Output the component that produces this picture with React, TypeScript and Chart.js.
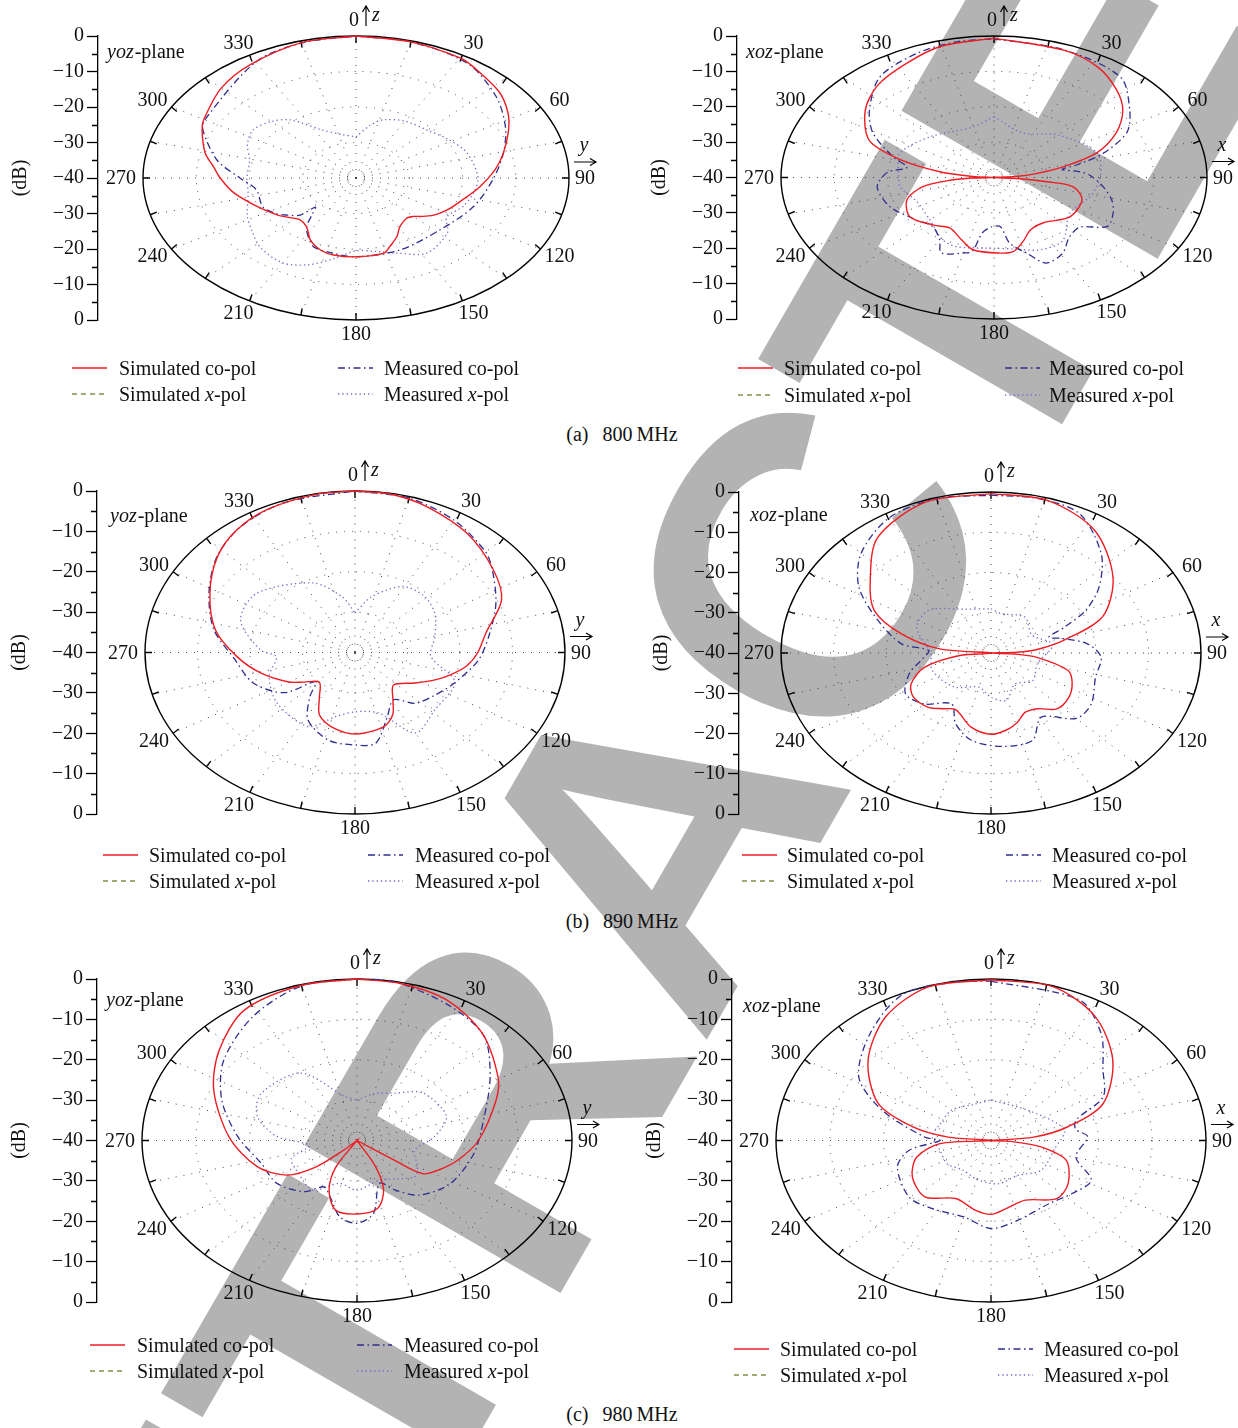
import React, { useEffect, useRef } from "react";
import { Chart, registerables } from "chart.js";

Chart.register(...registerables);

const SERIF = "'Liberation Serif', 'Times New Roman', serif";
const FS = 20;

/* ---------------- axis / grid values ---------------- */
const dbAxisLevels = [0, -5, -10, -15, -20, -25, -30, -35, -40];
const ringLevels = [-10, -20, -30];
const spokeAngles = [0, 15, 30, 45, 60, 75, 90, 105, 120, 135, 150, 165, 180, 195, 210, 225, 240, 255, 270, 285, 300, 315, 330, 345];
const angleLabelValues = [30, 60, 120, 150, 180, 210, 240, 270, 300, 330];
const legendLabels = ["Simulated co-pol", "Simulated x-pol", "Measured co-pol", "Measured x-pol"];
const captionTags = ["(a)", "(b)", "(c)"];
const captionFreqs = ["800 MHz", "890 MHz", "980 MHz"];
const watermarkText = "RETRACTED";

/* ---------------- (a) 800 MHz, yoz ---------------- */
const aYozSimAng = [0, 15, 30, 35, 48, 57, 65, 76, 85, 96, 109, 118, 126, 132, 135, 140, 149, 155, 162, 166, 180, 191, 198, 206, 214, 222, 228, 235, 247, 260, 270, 277, 284, 295, 300, 315, 328, 345, 360];
const aYozSimDb = [0, -0.3, -0.9, -1.7, -3.8, -6, -8.4, -11.5, -13.8, -16.6, -19.4, -20.7, -22.1, -23.8, -24.7, -25.2, -24, -21.8, -19.6, -18.2, -17.8, -17.9, -18.6, -20.5, -23.4, -24.2, -23.3, -21.9, -19.7, -16.6, -14.5, -13, -10.8, -8.1, -7, -4.2, -2.4, -0.5, 0];
const aYozMeasCoAng = [0, 15, 33, 49, 63, 76, 91, 110, 133, 158, 180, 192, 202, 208, 214, 219, 223, 225, 231, 236, 245, 260, 270, 281, 295, 300, 330, 345, 360];
const aYozMeasCoDb = [0, -0.3, -1.5, -5.1, -8.5, -11.5, -14.3, -16.5, -18.5, -18.1, -17.8, -18.4, -19, -21, -23.4, -27, -28.8, -25.2, -23.4, -22, -20.7, -21, -18.2, -13.4, -8.3, -7.2, -2.3, -0.6, 0];
const aYozMeasXAng = [0, 10, 17, 30, 45, 58, 71, 89, 100, 112, 123, 132, 148, 160, 170, 180, 190, 200, 210, 223, 233, 242, 258, 270, 284, 295, 305, 315, 323, 335, 348, 360];
const aYozMeasXDb = [-28.4, -25, -22.9, -21.5, -21, -19.5, -18, -17.1, -17.5, -18.4, -19.7, -16.9, -15, -17.5, -19, -19.5, -17, -14, -12.4, -13.5, -15.5, -16.9, -19.3, -19.5, -19.4, -17.5, -16.4, -17.5, -19.5, -25.1, -27.5, -28.4];

/* ---------------- (a) 800 MHz, xoz ---------------- */
const aXozSimAng = [0, 20, 32, 43, 52, 61, 70, 77, 82, 86, 90, 94, 97, 100, 111, 128, 144, 155, 163, 170, 177, 191, 200, 210, 220, 235, 249, 259, 265, 268, 270, 274, 279, 286, 294, 308, 320, 333, 345, 360];
const aXozSimDb = [-0.6, -1.7, -3.2, -6.2, -9.3, -13.7, -19.4, -26.7, -32, -36, -40, -35.2, -30, -24.9, -22.3, -21.9, -24.2, -23.7, -21.2, -18.8, -18.6, -19.2, -21.6, -23.5, -22.4, -20.7, -22.5, -26.4, -32, -36, -40, -36, -29.7, -21.7, -14.4, -9.3, -6, -3.8, -1.6, -0.6];
const aXozMeasCoAng = [0, 20, 40, 53, 63, 72, 77, 80, 84, 88, 97, 106, 114, 123, 131, 140, 149, 158, 164, 171, 175, 182, 188, 191, 195, 205, 210, 220, 230, 247, 263, 274, 280, 287, 299, 309, 323, 338, 350, 360];
const aXozMeasCoDb = [-0.8, -1.6, -3, -8.1, -12, -18.7, -24, -27, -24, -22, -19.4, -17, -15.5, -14.6, -18.6, -18, -15, -13.9, -17.8, -21.2, -26, -26, -24.2, -18.8, -17.9, -16.5, -19.6, -22, -21.2, -18.8, -17.9, -19.9, -23.4, -20.2, -14, -9.9, -4.4, -2, -1, -0.8];
const aXozMeasXAng = [0, 23, 45, 70, 88, 105, 125, 144, 157, 170, 180, 200, 209, 225, 245, 261, 275, 291, 314, 344, 360];
const aXozMeasXDb = [-22.8, -26.3, -23, -19.4, -20, -21, -22.6, -18, -17.8, -19.5, -20, -19.2, -20, -23, -24, -22.2, -22, -21, -23.4, -25.2, -22.8];

/* ---------------- (b) 890 MHz, yoz ---------------- */
const bYozSimAng = [0, 10, 21, 36, 52, 65, 79, 90, 99, 107, 114, 123.5, 137.7, 148.4, 155, 163.5, 180, 193.4, 203.6, 211, 222.7, 233, 240, 254, 267.4, 282, 298, 312, 323.4, 335, 350, 360];
const bYozSimDb = [0, -0.2, -1.4, -3.6, -6.6, -9.2, -14.6, -16.6, -18.5, -21, -23.3, -26.3, -29.1, -26.2, -23, -20.8, -19.8, -21, -23.1, -26.8, -30, -27.8, -25.4, -21.4, -17.5, -12.8, -8.7, -4.7, -2.2, -0.8, -0.1, 0];
const bYozMeasCoAng = [0, 15, 30, 45, 52, 65.5, 80, 94.5, 111.7, 125, 137.8, 148, 158.7, 170, 180, 193, 208, 218, 226, 233.4, 248.7, 267, 282, 298, 312, 325, 340, 360];
const bYozMeasCoDb = [0, -0.4, -2.2, -4.8, -6.8, -10.5, -14, -16.4, -19.6, -21.5, -23, -26.2, -23, -17.2, -17.1, -17.7, -21, -26, -29.6, -23.3, -19.2, -16.8, -12.5, -8.5, -4.6, -2, -0.5, 0];
const bYozMeasXAng = [0, 13, 29, 43, 57, 75.6, 94, 111, 133, 150, 163, 180, 193, 206, 230, 250, 266, 272, 290, 308, 335, 350, 360];
const bYozMeasXDb = [-30.2, -25.8, -21.3, -20.8, -21.9, -24.3, -25.5, -19.6, -19.2, -17, -24.3, -25.3, -23.7, -19.6, -20.6, -22.6, -25, -22, -16.8, -16.2, -21, -26, -30.2];

/* ---------------- (b) 890 MHz, xoz ---------------- */
const bXozSimAng = [0, 16, 33, 51, 67, 77, 84, 88, 90, 93, 97, 106.5, 116, 127, 138, 147, 156, 164, 171.6, 180, 191.6, 205.5, 213, 221.4, 233.6, 243.4, 254.4, 264, 270, 276, 285.6, 295.4, 308, 323, 341.6, 360];
const bXozSimDb = [-0.4, -0.6, -3.7, -10.1, -16.9, -25.7, -31, -35, -40, -36, -31.2, -24.7, -22.8, -21.5, -21.3, -23.5, -23.9, -22, -20.6, -19.8, -21.2, -24.4, -23.5, -22, -21.6, -23, -26.9, -34, -40, -30.2, -22.3, -15.4, -10.8, -4.1, -0.5, -0.4];
const bXozMeasCoAng = [0, 13, 26, 40.4, 51.5, 59.6, 65.4, 70.4, 75, 82.9, 92.8, 106.8, 123.5, 135, 149, 160, 175, 189.8, 201, 210.6, 225, 238, 251.7, 262, 273, 277.6, 290.6, 303, 315, 330, 345, 360];
const bXozMeasCoDb = [-0.8, -0.6, -1.5, -7.6, -13.7, -19.1, -24.6, -28.3, -26, -21.5, -19, -19.2, -17.1, -17, -21.4, -16.9, -16.7, -18, -21.2, -25.3, -22.1, -20.8, -23.6, -26.5, -28.1, -22.8, -17, -10, -5, -1.2, -0.3, -0.8];
const bXozMeasXAng = [0, 12, 36, 60, 80, 107, 130, 150, 166, 180, 195, 220, 249, 270, 294, 312, 335, 360];
const bXozMeasXDb = [-29, -30, -29, -31, -28, -30.8, -29.5, -31, -27.9, -29, -31.2, -29, -28, -28.5, -24.5, -24.1, -28, -29];

/* ---------------- (c) 980 MHz, yoz ---------------- */
const cYozSimAng = [0, 12, 25.6, 41, 59, 69, 90, 104, 115, 124, 125, 126, 150, 152, 158, 167, 180, 193, 203, 211, 216, 224, 226, 229.4, 236.7, 251, 272, 295, 311, 327, 345, 360];
const cYozSimDb = [0, -0.3, -1.4, -4.6, -9.4, -12.3, -17.4, -20.5, -23, -25.3, -32, -40, -40, -32.6, -26.8, -22.8, -21.8, -22.3, -26.7, -32.4, -40, -40, -36.6, -30, -24.4, -20.3, -16.2, -10.6, -6, -1.5, -0.2, 0];
const cYozMeasCoAng = [0, 10, 27.7, 42.5, 57.4, 76, 98.2, 121.4, 139.6, 149.9, 158.4, 170.3, 180, 189.5, 199.8, 208, 217.6, 234.5, 252.4, 272.5, 291.8, 308.8, 327.8, 344.6, 360];
const cYozMeasCoDb = [0, 0, -2.5, -5, -10.6, -15.6, -18, -19.6, -22.2, -25.8, -28.6, -21.7, -19.5, -20.8, -25.2, -27, -24, -21.7, -21.3, -17.8, -12.9, -8.2, -3.7, -0.4, 0];
const cYozMeasXAng = [0, 15, 31, 46, 70, 86, 103, 120, 130, 157, 180, 197, 214, 235, 250, 262, 274, 288, 303, 328, 348, 360];
const cYozMeasXDb = [-30, -28, -26.3, -23, -22.3, -25.5, -29, -27, -26, -29.3, -27.7, -28.9, -25.2, -26.5, -27, -31, -25, -20.5, -18.7, -20.3, -28.8, -30];

/* ---------------- (c) 980 MHz, xoz ---------------- */
const cXozSimAng = [0, 16.8, 32.3, 48.6, 66.3, 76.6, 84, 90, 94, 99.7, 109.2, 126.7, 139.7, 156.6, 170.6, 180, 189.7, 204.5, 221.4, 238.3, 253.5, 265.4, 270, 276, 283, 293.6, 311, 327.5, 343, 360];
const cXozSimDb = [-0.2, -0.2, -3.7, -9.8, -17.2, -25.3, -32, -40, -36, -30.6, -25.2, -22.1, -21.1, -23.9, -22.9, -21.7, -22.5, -24.2, -21.4, -22.8, -25.6, -30.5, -40, -32, -25.1, -17.1, -9.7, -3.6, -0.2, -0.2];
const cXozMeasCoAng = [0, 25.4, 37.7, 50, 62.6, 72.3, 80, 87, 104.5, 117.8, 131, 145.5, 166, 180, 195, 213, 227.4, 249.4, 261, 270, 274, 290.3, 302.6, 319.8, 335.4, 350, 360];
const cXozMeasCoDb = [-0.5, -1.5, -6.5, -12.8, -16.5, -23.4, -24, -22, -23.7, -18.9, -20, -21, -19.6, -18.2, -20.4, -19.9, -19.3, -21.4, -24.6, -30.5, -27.6, -18.4, -10.8, -5.2, -0.3, -0.2, -0.5];
const cXozMeasXAng = [0, 45, 79, 100, 128, 150, 173, 195, 215, 235, 256, 275, 294, 316, 340, 360];
const cXozMeasXDb = [-30, -29.7, -26.1, -28, -28.1, -30, -29.2, -30, -31, -30, -30.2, -29, -29.7, -29.5, -30.5, -30];

/* ---------------- styles ---------------- */
const STYLE: any = {
  simCo: { color: "#ee1d23", width: 1.4, dash: [] },
  simX: { color: "#8c8c48", width: 1.4, dash: [5, 4] },
  measCo: { color: "#2e2e8e", width: 1.3, dash: [7, 3.5, 1.5, 3.5] },
  measX: { color: "#7f63c9", width: 1.3, dash: [1.3, 3] },
};

const PANELS: any[] = [
  { plane: "yoz", letter: "y", axisX: 98, top: 36, bottom: 320, cx: 356, rx: 213, planeX: 107, planeY: 53,
    series: [[aYozSimAng, aYozSimDb, "simCo"], [aYozMeasCoAng, aYozMeasCoDb, "measCo"], [aYozMeasXAng, aYozMeasXDb, "measX"]],
    legend: { c1x: 72, c1tx: 119, c2x: 338, c2tx: 384, y1: 368, y2: 394 } },
  { plane: "xoz", letter: "x", axisX: 737, top: 36, bottom: 319, cx: 994, rx: 213, planeX: 746, planeY: 53,
    series: [[aXozSimAng, aXozSimDb, "simCo"], [aXozMeasCoAng, aXozMeasCoDb, "measCo"], [aXozMeasXAng, aXozMeasXDb, "measX"]],
    legend: { c1x: 738, c1tx: 784, c2x: 1005, c2tx: 1049, y1: 368, y2: 395 } },
  { plane: "yoz", letter: "y", axisX: 97, top: 491, bottom: 814, cx: 355, rx: 210, planeX: 110, planeY: 517,
    series: [[bYozSimAng, bYozSimDb, "simCo"], [bYozMeasCoAng, bYozMeasCoDb, "measCo"], [bYozMeasXAng, bYozMeasXDb, "measX"]],
    legend: { c1x: 103, c1tx: 149, c2x: 368, c2tx: 415, y1: 855, y2: 881 } },
  { plane: "xoz", letter: "x", axisX: 739, top: 492, bottom: 814, cx: 991, rx: 210, planeX: 750, planeY: 516,
    series: [[bXozSimAng, bXozSimDb, "simCo"], [bXozMeasCoAng, bXozMeasCoDb, "measCo"], [bXozMeasXAng, bXozMeasXDb, "measX"]],
    legend: { c1x: 742, c1tx: 787, c2x: 1006, c2tx: 1052, y1: 855, y2: 881 } },
  { plane: "yoz", letter: "y", axisX: 97, top: 979, bottom: 1302, cx: 357, rx: 215, planeX: 106, planeY: 1001,
    series: [[cYozSimAng, cYozSimDb, "simCo"], [cYozMeasCoAng, cYozMeasCoDb, "measCo"], [cYozMeasXAng, cYozMeasXDb, "measX"]],
    legend: { c1x: 90, c1tx: 137, c2x: 357, c2tx: 404, y1: 1345, y2: 1371 } },
  { plane: "xoz", letter: "x", axisX: 732, top: 979, bottom: 1302, cx: 991, rx: 215, planeX: 743, planeY: 1007,
    series: [[cXozSimAng, cXozSimDb, "simCo"], [cXozMeasCoAng, cXozMeasCoDb, "measCo"], [cXozMeasXAng, cXozMeasXDb, "measX"]],
    legend: { c1x: 734, c1tx: 780, c2x: 998, c2tx: 1044, y1: 1349, y2: 1375 } },
];
const CAPTION_Y = [434, 921, 1414];

const AXIS_W = 97;
const PAD_T = 44;
const PAD_B = 44;

const yTickValues: number[] = Array.from(
  new Set([...dbAxisLevels.map((d) => (d + 40) / 40), ...dbAxisLevels.map((d) => -(d + 40) / 40)])
).sort((a, b) => a - b);

const dbOf = (v: number) => Math.round(-40 + 40 * Math.abs(v));
const isMajor = (v: any) => typeof v === "number" && dbOf(v) % 10 === 0;
const fmt = (d: number) => (d < 0 ? "\u2212" + Math.abs(d) : String(d));

function toXY(ang: number[], db: number[]) {
  return ang.map((a, i) => {
    const r = Math.max(0, (db[i] + 40) / 40);
    const t = (a * Math.PI) / 180;
    return { x: r * Math.sin(t), y: r * Math.cos(t) };
  });
}

function geom(p: any) {
  const Lc = p.axisX - AXIS_W;
  const W = Math.min(600, 1238 - Lc);
  const Tc = p.top - PAD_T;
  const H = p.bottom - p.top + PAD_T + PAD_B;
  const chartRight = p.cx + p.rx + 20;
  const padRight = Lc + W - chartRight;
  const xMin = (p.axisX - p.cx) / p.rx;
  const xMax = (chartRight - p.cx) / p.rx;
  return { Lc, W, Tc, H, padRight, xMin, xMax };
}

function framePlugin(p: any, Lc: number, Tc: number) {
  const setup = (chart: any) => {
    const xs = chart.scales.x;
    const ys = chart.scales.y;
    const pt = (deg: number, r: number) => {
      const t = (deg * Math.PI) / 180;
      return { x: xs.getPixelForValue(r * Math.sin(t)), y: ys.getPixelForValue(r * Math.cos(t)) };
    };
    const c = pt(0, 0);
    const rx = xs.getPixelForValue(1) - c.x;
    const ry = c.y - ys.getPixelForValue(1);
    return { xs, ys, pt, c, rx, ry };
  };
  return {
    id: "polarFrame",
    beforeDatasetsDraw(chart: any) {
      const ctx = chart.ctx;
      const { pt, c, rx, ry } = setup(chart);
      ctx.save();
      ctx.strokeStyle = "#444";
      ctx.lineWidth = 1;
      ctx.setLineDash([1, 7]);
      ringLevels.forEach((lv) => {
        const r = (lv + 40) / 40;
        ctx.beginPath();
        ctx.ellipse(c.x, c.y, rx * r, ry * r, 0, 0, Math.PI * 2);
        ctx.stroke();
      });
      spokeAngles.forEach((a) => {
        const e = pt(a, 1);
        ctx.beginPath();
        ctx.moveTo(c.x, c.y);
        ctx.lineTo(e.x, e.y);
        ctx.stroke();
      });
      ctx.setLineDash([]);
      ctx.strokeStyle = "#000";
      ctx.lineWidth = 1.4;
      ctx.beginPath();
      ctx.ellipse(c.x, c.y, rx, ry, 0, 0, Math.PI * 2);
      ctx.stroke();
      ctx.beginPath();
      spokeAngles.forEach((a) => {
        const t = (a * Math.PI) / 180;
        const e = pt(a, 1);
        let nx = Math.sin(t) / rx;
        let ny = -Math.cos(t) / ry;
        const n = Math.hypot(nx, ny);
        nx /= n;
        ny /= n;
        ctx.moveTo(e.x, e.y);
        ctx.lineTo(e.x - nx * 7, e.y - ny * 7);
      });
      ctx.stroke();
      ctx.restore();
    },
    afterDraw(chart: any) {
      const ctx = chart.ctx;
      const { ys, c, rx, ry } = setup(chart);
      ctx.save();
      const ax = chart.chartArea.left;
      ctx.strokeStyle = "#000";
      ctx.lineWidth = 1.3;
      ctx.beginPath();
      yTickValues.filter((v) => !isMajor(v)).forEach((v) => {
        const y = Math.round(ys.getPixelForValue(v)) + 0.5;
        ctx.moveTo(ax - 6, y);
        ctx.lineTo(ax, y);
      });
      ctx.stroke();
      ctx.fillStyle = "#111";
      ctx.font = `${FS}px ${SERIF}`;
      ctx.textAlign = "center";
      ctx.textBaseline = "middle";
      angleLabelValues.forEach((a) => {
        const t = (a * Math.PI) / 180;
        ctx.fillText(String(a), c.x + (rx + 22) * Math.sin(t), c.y - (ry + 14) * Math.cos(t) + 1);
      });
      const top = c.y - ry;
      ctx.textAlign = "right";
      ctx.fillText("0", c.x + 3, top - 15);
      const axx = c.x + 10;
      ctx.lineWidth = 1.2;
      ctx.beginPath();
      ctx.moveTo(axx, top - 10);
      ctx.lineTo(axx, top - 30);
      ctx.moveTo(axx - 3.5, top - 24);
      ctx.lineTo(axx, top - 30);
      ctx.lineTo(axx + 3.5, top - 24);
      ctx.stroke();
      ctx.textAlign = "left";
      ctx.font = `italic ${FS}px ${SERIF}`;
      ctx.fillText("z", c.x + 16, top - 20);
      const right = c.x + rx;
      ctx.font = `${FS}px ${SERIF}`;
      ctx.textAlign = "center";
      ctx.fillText("90", right + 16, c.y + 1);
      ctx.beginPath();
      ctx.moveTo(right + 5, c.y - 16);
      ctx.lineTo(right + 27, c.y - 16);
      ctx.moveTo(right + 21, c.y - 19.5);
      ctx.lineTo(right + 27, c.y - 16);
      ctx.lineTo(right + 21, c.y - 12.5);
      ctx.stroke();
      ctx.font = `italic ${FS}px ${SERIF}`;
      ctx.fillText(p.letter, right + 15, c.y - 32);
      const px = p.planeX - Lc;
      const py = p.planeY - Tc;
      ctx.textAlign = "left";
      ctx.font = `italic ${FS}px ${SERIF}`;
      ctx.fillText(p.plane, px, py);
      const w = ctx.measureText(p.plane).width;
      ctx.font = `${FS}px ${SERIF}`;
      ctx.fillText("-plane", px + w + 1, py);
      ctx.restore();
    },
  };
}

function PolarPanel({ p }: { p: any }) {
  const ref = useRef<HTMLCanvasElement | null>(null);
  const g = geom(p);
  useEffect(() => {
    const datasets = p.series.map(([ang, db, kind]: any) => ({
      label: kind,
      data: toXY(ang, db),
      showLine: true,
      borderColor: STYLE[kind].color,
      borderWidth: STYLE[kind].width,
      borderDash: STYLE[kind].dash,
      pointRadius: 0,
      pointHoverRadius: 0,
      fill: false,
      tension: 0.3,
      clip: false,
    }));
    const chart = new Chart(ref.current as HTMLCanvasElement, {
      type: "scatter",
      data: { datasets },
      options: {
        responsive: false,
        animation: false,
        devicePixelRatio: 1,
        events: [],
        layout: { padding: { top: PAD_T, bottom: PAD_B, left: 0, right: g.padRight } },
        plugins: { legend: { display: false }, tooltip: { enabled: false } },
        scales: {
          x: { type: "linear", display: false, min: g.xMin, max: g.xMax },
          y: {
            type: "linear",
            position: "left",
            min: -1,
            max: 1,
            afterFit: (s: any) => {
              s.width = AXIS_W;
            },
            afterBuildTicks: (s: any) => {
              s.ticks = yTickValues.map((v) => ({ value: v }));
            },
            ticks: {
              autoSkip: false,
              padding: 3,
              color: "#111",
              font: { family: SERIF, size: FS },
              callback: (v: any) => (isMajor(v) ? fmt(dbOf(v)) : ""),
            },
            grid: {
              drawOnChartArea: false,
              drawTicks: true,
              tickLength: 11,
              tickWidth: 1.3,
              tickColor: (c: any) => (c.tick && isMajor(c.tick.value) ? "#000" : "rgba(0,0,0,0)"),
            },
            border: { display: true, color: "#000", width: 1.3 },
            title: {
              display: true,
              text: "(dB)",
              color: "#111",
              font: { family: SERIF, size: FS },
              padding: { top: 8, bottom: 0 },
            },
          },
        },
      } as any,
      plugins: [framePlugin(p, g.Lc, g.Tc)],
    } as any);
    return () => chart.destroy();
  }, []);
  return (
    <canvas
      ref={ref}
      width={g.W}
      height={g.H}
      style={{ position: "absolute", left: g.Lc, top: g.Tc, width: g.W, height: g.H }}
    />
  );
}

function LegendLabel({ text }: { text: string }) {
  const parts = text.split(" x-");
  if (parts.length === 2) {
    return (
      <>
        {parts[0]} <i>x</i>-{parts[1]}
      </>
    );
  }
  return <>{text}</>;
}

function LegendBlock({ L }: { L: any }) {
  const items = [
    { kind: "simCo", label: legendLabels[0], lx: L.c1x, tx: L.c1tx, y: L.y1 },
    { kind: "measCo", label: legendLabels[2], lx: L.c2x, tx: L.c2tx, y: L.y1 },
    { kind: "simX", label: legendLabels[1], lx: L.c1x, tx: L.c1tx, y: L.y2 },
    { kind: "measX", label: legendLabels[3], lx: L.c2x, tx: L.c2tx, y: L.y2 },
  ];
  return (
    <>
      {items.map((it, i) => (
        <React.Fragment key={i}>
          <svg
            width={36}
            height={6}
            style={{ position: "absolute", left: it.lx, top: it.y - 3, overflow: "visible" }}
          >
            <line
              x1={0}
              y1={3}
              x2={35}
              y2={3}
              stroke={STYLE[it.kind].color}
              strokeWidth={STYLE[it.kind].width}
              strokeDasharray={STYLE[it.kind].dash.join(" ") || undefined}
            />
          </svg>
          <div
            style={{
              position: "absolute",
              left: it.tx,
              top: it.y - 12,
              fontFamily: SERIF,
              fontSize: FS,
              lineHeight: "24px",
              color: "#111",
              whiteSpace: "nowrap",
            }}
          >
            <LegendLabel text={it.label} />
          </div>
        </React.Fragment>
      ))}
    </>
  );
}

export default function App() {
  return (
    <div
      style={{
        position: "absolute",
        left: 0,
        top: 0,
        width: 1238,
        height: 1428,
        overflow: "hidden",
        background: "#fff",
      }}
    >
      <div
        style={{
          position: "absolute",
          left: 650,
          top: 840,
          transform: "translate(-50%, -50%) rotate(-60deg)",
          fontFamily: "'Liberation Sans', Arial, sans-serif",
          fontWeight: 700,
          fontSize: 430,
          lineHeight: 1,
          color: "#b3b3b3",
          whiteSpace: "nowrap",
        }}
      >
        {watermarkText}
      </div>
      {PANELS.map((p, i) => (
        <PolarPanel key={i} p={p} />
      ))}
      {PANELS.map((p, i) => (
        <LegendBlock key={"l" + i} L={p.legend} />
      ))}
      {CAPTION_Y.map((y, i) => (
        <div
          key={"c" + i}
          style={{
            position: "absolute",
            left: 0,
            width: 1244,
            top: y - 12,
            textAlign: "center",
            fontFamily: SERIF,
            fontSize: FS,
            lineHeight: "24px",
            color: "#111",
            whiteSpace: "nowrap",
          }}
        >
          {captionTags[i]}
          {"\u2002\u2009"}
          {captionFreqs[i].replace(" ", "\u2009")}
        </div>
      ))}
    </div>
  );
}
